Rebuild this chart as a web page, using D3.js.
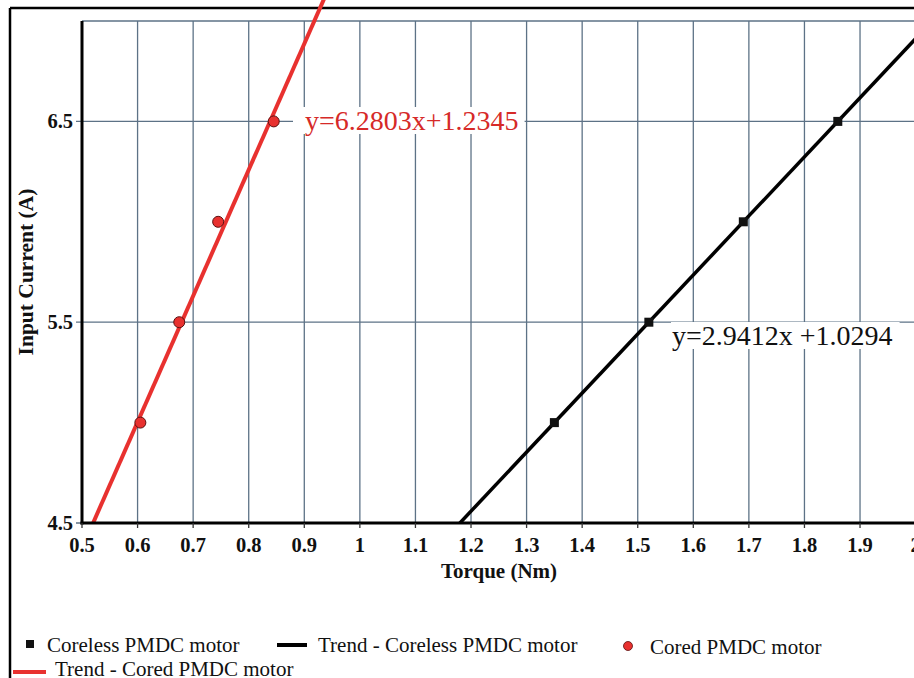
<!DOCTYPE html>
<html>
<head>
<meta charset="utf-8">
<script src="https://cdn.jsdelivr.net/npm/d3@7/dist/d3.min.js"></script>
<style>
  html, body { margin: 0; padding: 0; background: #fff; }
  svg { display: block; }
  text { font-family: "Liberation Serif", "DejaVu Serif", serif; }
</style>
</head>
<body>
<script>
// ---- data ----
const xTicks = [0.5, 0.6, 0.7, 0.8, 0.9, 1, 1.1, 1.2, 1.3, 1.4, 1.5, 1.6, 1.7, 1.8, 1.9, 2];
const yTicks = [4.5, 5.5, 6.5];
const corelessTorque = [1.35, 1.52, 1.69, 1.86];
const corelessCurrent = [5.0, 5.5, 6.0, 6.5];
const coredTorque = [0.605, 0.675, 0.745, 0.845];
const coredCurrent = [5.0, 5.5, 6.0, 6.5];
const trendNames = ["Trend - Coreless PMDC motor", "Trend - Cored PMDC motor"];
const trendSlopes = [2.9412, 6.2803];
const trendIntercepts = [1.0294, 1.2345];
const trendLabels = ["y=2.9412x +1.0294", "y=6.2803x+1.2345"];
const trendColors = ["#000000", "#e8312f"];

const W = 914, H = 678;
const m = { left: 82, top: 21, right: 915.6, bottom: 523 };
const svg = d3.select("body").append("svg").attr("width", W).attr("height", H);

// outer frame
svg.append("line").attr("x1", 10).attr("y1", 8).attr("x2", W).attr("y2", 8).attr("stroke", "#000").attr("stroke-width", 2.5);
svg.append("line").attr("x1", 10).attr("y1", 8).attr("x2", 10).attr("y2", H).attr("stroke", "#000").attr("stroke-width", 2.5);

const x = d3.scaleLinear().domain([0.5, 2]).range([m.left, m.right]);
const y = d3.scaleLinear().domain([4.5, 7]).range([m.bottom, m.top]);

const gridColor = "#5d7286";
// vertical grid
svg.append("g").selectAll("line").data(xTicks.filter(d => d > 0.5)).join("line")
  .attr("x1", d => x(d)).attr("x2", d => x(d)).attr("y1", m.top).attr("y2", m.bottom)
  .attr("stroke", gridColor).attr("stroke-width", 1.3);
// horizontal grid
svg.append("g").selectAll("line").data(yTicks.concat([7])).join("line")
  .attr("x1", d => d === 7 ? m.left : m.left - 6).attr("x2", W).attr("y1", d => y(d)).attr("y2", d => y(d))
  .attr("stroke", gridColor).attr("stroke-width", 1.3);

// trend labels with white background
const labelPos = [{ x: 672, y: 345 }, { x: 305, y: 130 }];
trendLabels.forEach((t, i) => {
  const g = svg.append("g");
  const txt = g.append("text").attr("x", labelPos[i].x).attr("y", labelPos[i].y)
    .attr("font-size", 28).attr("fill", i === 1 ? "#d62a28" : "#111").text(t);
  const bb = txt.node().getBBox();
  g.insert("rect", "text").attr("x", bb.x - (i === 1 ? 12 : 1)).attr("y", bb.y + 2)
    .attr("width", bb.width + (i === 1 ? 18 : 8)).attr("height", bb.height - 4).attr("fill", "#fff");
});

// clip for trend lines
svg.append("clipPath").attr("id", "plotclip").append("rect")
  .attr("x", m.left).attr("y", m.top - 30).attr("width", W - m.left).attr("height", m.bottom - m.top + 30);

const xs = x.domain();
trendSlopes.forEach((s, i) => {
  const pts = xs.map(v => [v, s * v + trendIntercepts[i]]);
  svg.append("path").attr("clip-path", "url(#plotclip)")
    .attr("d", d3.line().x(d => x(d[0])).y(d => y(d[1]))(pts))
    .attr("stroke", trendColors[i]).attr("stroke-width", i === 1 ? 4 : 3.5).attr("fill", "none");
});

// axes
svg.append("line").attr("x1", m.left).attr("x2", m.left).attr("y1", m.top).attr("y2", m.bottom + 1.5)
  .attr("stroke", "#000").attr("stroke-width", 3);
svg.append("line").attr("x1", m.left - 1.5).attr("x2", W).attr("y1", m.bottom).attr("y2", m.bottom)
  .attr("stroke", "#000").attr("stroke-width", 3);
// x tick marks
svg.append("g").selectAll("line").data(xTicks).join("line")
  .attr("x1", d => x(d)).attr("x2", d => x(d)).attr("y1", m.bottom).attr("y2", m.bottom + 5)
  .attr("stroke", "#333").attr("stroke-width", 1.3);

// tick labels
svg.append("g").selectAll("text").data(xTicks).join("text")
  .attr("x", d => x(d)).attr("y", 552).attr("text-anchor", "middle")
  .attr("font-size", 20.5).attr("font-weight", "bold").attr("fill", "#111")
  .text(d => d3.format("")(d));
svg.append("g").selectAll("text").data(yTicks).join("text")
  .attr("x", 73).attr("y", d => y(d) + 7).attr("text-anchor", "end")
  .attr("font-size", 20.5).attr("font-weight", "bold").attr("fill", "#111")
  .text(d => d3.format(".1f")(d));

// axis titles
svg.append("text").attr("x", 499).attr("y", 578).attr("text-anchor", "middle")
  .attr("font-size", 21).attr("font-weight", "bold").attr("fill", "#111").text("Torque (Nm)");
svg.append("text").attr("transform", "translate(33,272) rotate(-90)").attr("text-anchor", "middle")
  .attr("font-size", 21.5).attr("font-weight", "bold").attr("fill", "#111").text("Input Current (A)");

// points
const coreless = corelessTorque.map((t, i) => ({ t, c: corelessCurrent[i] }));
const cored = coredTorque.map((t, i) => ({ t, c: coredCurrent[i] }));
svg.append("g").selectAll("rect").data(coreless).join("rect")
  .attr("x", d => x(d.t) - 4.5).attr("y", d => y(d.c) - 4.5).attr("width", 9).attr("height", 9)
  .attr("fill", "#111");
svg.append("g").selectAll("circle").data(cored).join("circle")
  .attr("cx", d => x(d.t)).attr("cy", d => y(d.c)).attr("r", 5.5)
  .attr("fill", "#e8312f").attr("stroke", "#5a1010").attr("stroke-width", 1);

// legend
const lg = svg.append("g").attr("font-size", 21).attr("fill", "#111");
lg.append("rect").attr("x", 26).attr("y", 640).attr("width", 8).attr("height", 8).attr("fill", "#111");
lg.append("text").attr("x", 47).attr("y", 652).text("Coreless PMDC motor");
lg.append("line").attr("x1", 277).attr("x2", 307).attr("y1", 645).attr("y2", 645).attr("stroke", "#000").attr("stroke-width", 4);
lg.append("text").attr("x", 318).attr("y", 652).text(trendNames[0]);
lg.append("circle").attr("cx", 628).attr("cy", 646).attr("r", 4.5).attr("fill", "#e8312f").attr("stroke", "#5a1010").attr("stroke-width", 0.8);
lg.append("text").attr("x", 650).attr("y", 654).text("Cored PMDC motor");
lg.append("line").attr("x1", 13).attr("x2", 46).attr("y1", 672).attr("y2", 672).attr("stroke", "#e8312f").attr("stroke-width", 4);
lg.append("text").attr("x", 55).attr("y", 676).text(trendNames[1]);
</script>
</body>
</html>
